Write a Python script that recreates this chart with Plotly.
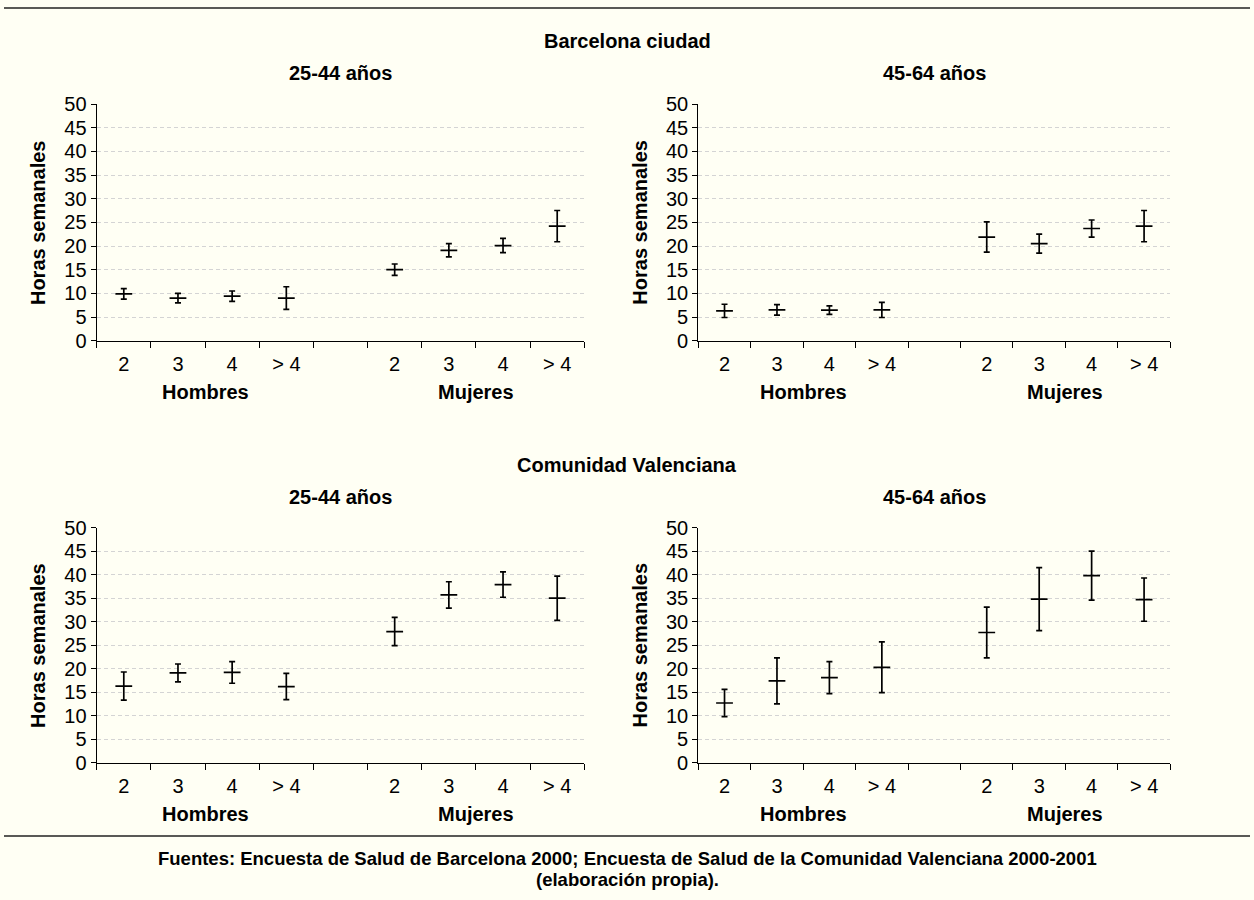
import plotly.graph_objects as go

# ---------------- data ----------------
categories = ["2", "3", "4", "> 4"]
groups = ["Hombres", "Mujeres"]

bcn_25_44 = [9.9, 9.0, 9.4, 9.0, 15.0, 19.1, 20.1, 24.2]
bcn_25_44_err = [1.1, 1.0, 1.1, 2.4, 1.2, 1.4, 1.5, 3.3]
bcn_45_64 = [6.3, 6.5, 6.45, 6.5, 21.9, 20.5, 23.7, 24.2]
bcn_45_64_err = [1.4, 1.1, 0.9, 1.6, 3.2, 2.0, 1.8, 3.3]
val_25_44 = [16.3, 19.1, 19.2, 16.2, 27.9, 35.7, 37.9, 35.0]
val_25_44_err = [3.0, 1.9, 2.3, 2.8, 3.0, 2.8, 2.7, 4.7]
val_45_64 = [12.7, 17.4, 18.1, 20.3, 27.7, 34.8, 39.8, 34.7]
val_45_64_err = [2.9, 4.9, 3.4, 5.4, 5.4, 6.7, 5.2, 4.6]

region_titles = ["Barcelona ciudad", "Comunidad Valenciana"]
age_titles = ["25-44 años", "45-64 años"]
y_title = "Horas semanales"
footer_lines = [
    "Fuentes: Encuesta de Salud de Barcelona 2000; Encuesta de Salud de la Comunidad Valenciana 2000-2001",
    "(elaboración propia).",
]

# ---------------- layout helpers ----------------
W, H = 1254, 900
FONT = "Liberation Sans, Arial, Helvetica, sans-serif"
BG = "#FFFFF4"

def px_x(v):
    return v / W

def px_y(v):
    return 1 - v / H

# x positions: 4 slots per group, one empty slot between groups
xpos = [g * 5 + i + 0.5 for g in range(len(groups)) for i in range(len(categories))]
tick_text = categories * len(groups)
group_centers = [g * 5 + len(categories) / 2 for g in range(len(groups))]

panels = [
    (bcn_25_44, bcn_25_44_err),
    (bcn_45_64, bcn_45_64_err),
    (val_25_44, val_25_44_err),
    (val_45_64, val_45_64_err),
]

x_domains = [(96.7, 584.3), (698.3, 1170.3)]
y_domains = [(104, 340.7), (527.7, 762.7)]

fig = go.Figure()
annotations = []

for k, (vals, errs) in enumerate(panels):
    row, col = divmod(k, 2)
    sfx = "" if k == 0 else str(k + 1)
    fig.add_trace(go.Scatter(
        x=xpos, y=vals,
        mode="markers",
        marker=dict(symbol="line-ew", size=12, color="black",
                    line=dict(color="black", width=1.7)),
        error_y=dict(type="data", array=errs, visible=True,
                     color="black", thickness=1.7, width=3),
        xaxis="x" + sfx, yaxis="y" + sfx,
        showlegend=False, hoverinfo="x+y",
    ))
    xd = x_domains[col]
    yd = y_domains[row]
    fig.layout["xaxis" + sfx] = dict(
        domain=[px_x(xd[0]), px_x(xd[1])],
        anchor="y" + sfx, automargin=False,
        range=[0, 9], showgrid=False, zeroline=False,
        showline=True, linecolor="black", linewidth=1.2,
        tickmode="array", tickvals=xpos, ticktext=tick_text,
        ticks="outside", ticklen=5, tickcolor="rgba(0,0,0,0)",
        tickfont=dict(family=FONT, size=20, color="black"),
        minor=dict(tickmode="array", tickvals=list(range(10)),
                   ticks="outside", ticklen=6, tickcolor="black",
                   tickwidth=1.2, showgrid=False),
        fixedrange=True,
    )
    fig.layout["yaxis" + sfx] = dict(
        domain=[px_y(yd[1]), px_y(yd[0])],
        anchor="x" + sfx, automargin=False,
        range=[0, 50], dtick=5, tick0=0,
        showgrid=True, gridcolor="#D4D4D4", gridwidth=1, griddash="4px,3px",
        zeroline=False, showline=True, linecolor="black", linewidth=1.2,
        ticks="outside", ticklen=5, tickwidth=1.2, tickcolor="black",
        tickfont=dict(family=FONT, size=20, color="black"),
        fixedrange=True,
    )
    # group labels under the axis
    for g, name in enumerate(groups):
        annotations.append(dict(
            x=group_centers[g], xref="x" + sfx,
            y=px_y(yd[1] + 51), yref="paper",
            text="<b>" + name + "</b>", showarrow=False,
            xanchor="center", yanchor="middle",
            font=dict(family=FONT, size=20, color="black")))
    # y axis title
    annotations.append(dict(
        x=px_x(xd[0] - 58), xref="paper",
        y=px_y((yd[0] + yd[1]) / 2), yref="paper",
        text="<b>" + y_title + "</b>", showarrow=False, textangle=-90,
        xanchor="center", yanchor="middle",
        font=dict(family=FONT, size=20, color="black")))
    # age subtitle
    annotations.append(dict(
        x=px_x((xd[0] + xd[1]) / 2), xref="paper",
        y=px_y(yd[0] - 31), yref="paper",
        text="<b>" + age_titles[col] + "</b>", showarrow=False,
        xanchor="center", yanchor="middle",
        font=dict(family=FONT, size=20, color="black")))

# region titles
for r, t in enumerate(region_titles):
    annotations.append(dict(
        x=px_x(627), xref="paper",
        y=px_y(y_domains[r][0] - 63), yref="paper",
        text="<b>" + t + "</b>", showarrow=False,
        xanchor="center", yanchor="middle",
        font=dict(family=FONT, size=20, color="black")))

# footer (two lines, tight spacing)
for i, line in enumerate(footer_lines):
    annotations.append(dict(
        x=px_x(627), xref="paper", y=px_y(858 + 21 * i), yref="paper",
        text="<b>" + line + "</b>", showarrow=False,
        xanchor="center", yanchor="middle", align="center",
        font=dict(family=FONT, size=18.5, color="black")))

shapes = [
    dict(type="line", xref="paper", yref="paper",
         x0=px_x(4), x1=px_x(1250), y0=px_y(8), y1=px_y(8),
         line=dict(color="#222222", width=1.5)),
    dict(type="line", xref="paper", yref="paper",
         x0=px_x(4), x1=px_x(1250), y0=px_y(836), y1=px_y(836),
         line=dict(color="#222222", width=1.5)),
]

fig.update_layout(
    width=W, height=H,
    margin=dict(l=0, r=0, t=0, b=0, pad=0, autoexpand=False),
    paper_bgcolor=BG, plot_bgcolor=BG,
    annotations=annotations, shapes=shapes,
    font=dict(family=FONT, size=20, color="black"),
    showlegend=False,
)

post = (
    "document.documentElement.style.margin='0';"
    "document.body.style.margin='0';"
    "document.body.style.overflow='hidden';"
    "document.body.style.background='" + BG + "';"
    "var d=document.getElementById('{plot_id}');"
    "d.style.position='fixed';d.style.top='0px';d.style.left='0px';"
)

fig.write_html("out.html", post_script=post, config={"displayModeBar": False})
